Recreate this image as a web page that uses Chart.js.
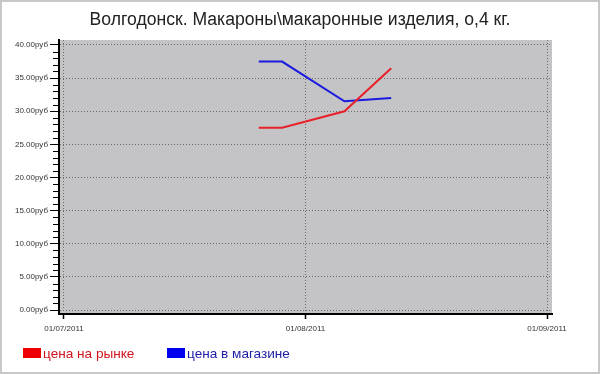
<!DOCTYPE html>
<html>
<head>
<meta charset="utf-8">
<script src="https://cdn.jsdelivr.net/npm/chart.js@4/dist/chart.umd.min.js"></script>
<style>
html,body{margin:0;padding:0;background:#fff;}
#wrap{position:relative;width:600px;height:374px;overflow:hidden;}
#c{position:absolute;left:0;top:0;}
#title{position:absolute;left:0;top:9px;width:600px;text-align:center;font:17.6px "Liberation Sans",Arial,sans-serif;color:#222;white-space:nowrap;}
.leg{position:absolute;top:346px;height:16px;font:13.6px "Liberation Sans",Arial,sans-serif;line-height:16px;white-space:nowrap;}
.leg i{position:absolute;left:0;top:2px;width:18px;height:10px;}
.leg span{position:absolute;left:20px;top:0;}
</style>
</head>
<body>
<div id="wrap">
<canvas id="c" width="600" height="374"></canvas>
<div id="title">Волгодонск. Макароны\макаронные изделия, о,4 кг.</div>
<div class="leg" id="leg0" style="left:23px;"><i></i><span></span></div>
<div class="leg" id="leg1" style="left:167px;"><i></i><span></span></div>
</div>
<script>
// ---- data ----
const dates = ["2011-07-26", "2011-07-29", "2011-08-06", "2011-08-12"];
const marketPrice = [27.5, 27.5, 30.0, 36.5];
const shopPrice = [37.5, 37.5, 31.5, 32.0];
const seriesNames = ["цена на рынке", "цена в магазине"];
const xTickDates = ["2011-07-01", "2011-08-01", "2011-09-01"];
const xTickLabels = ["01/07/2011", "01/08/2011", "01/09/2011"];
const yTicks = [0, 5, 10, 15, 20, 25, 30, 35, 40];

// ---- helpers ----
const origin = Date.UTC(2011, 6, 1);
const dayOf = s => { const [y, m, d] = s.split("-").map(Number); return (Date.UTC(y, m - 1, d) - origin) / 86400000; };
const xTickDays = xTickDates.map(dayOf);
const colors = ["#e8202a", "#1a1ae0"];
const textColors = ["#d0141e", "#1c1ca8"];

[0, 1].forEach(i => {
  const el = document.getElementById("leg" + i);
  el.querySelector("i").style.background = i ? "#0000ee" : "#ee0000";
  const sp = el.querySelector("span");
  sp.textContent = seriesNames[i];
  sp.style.color = textColors[i];
});

const plotBg = {
  id: "plotBg",
  beforeDraw(chart) {
    const { ctx, chartArea: a } = chart;
    ctx.save();
    ctx.fillStyle = "#c4c3c6";
    ctx.fillRect(a.left, a.top, a.right - a.left, a.bottom - a.top);
    ctx.restore();
  },
  afterDraw(chart) {
    const { ctx, chartArea: a, scales } = chart;
    const y = scales.y;
    ctx.save();
    ctx.strokeStyle = "#000";
    ctx.lineWidth = 1;
    ctx.beginPath();
    for (let v = 1; v < 40; v++) {
      if (v % 5 === 0) continue;
      const py = Math.round(y.getPixelForValue(v)) + 0.5;
      ctx.moveTo(a.left - 6, py);
      ctx.lineTo(a.left, py);
    }
    ctx.stroke();
    ctx.strokeStyle = "#c8c8c8";
    ctx.lineWidth = 2;
    ctx.strokeRect(1, 1, 598, 372);
    ctx.restore();
  }
};

const mk = (vals) => dates.map((d, i) => ({ x: dayOf(d), y: vals[i] }));

new Chart(document.getElementById("c"), {
  type: "line",
  data: {
    datasets: [
      { label: seriesNames[0], data: mk(marketPrice), borderColor: colors[0], backgroundColor: colors[0], borderWidth: 2, pointRadius: 0, tension: 0, fill: false },
      { label: seriesNames[1], data: mk(shopPrice), borderColor: colors[1], backgroundColor: colors[1], borderWidth: 2, pointRadius: 0, tension: 0, fill: false }
    ]
  },
  options: {
    responsive: false,
    animation: false,
    devicePixelRatio: 1,
    layout: { padding: { left: 0, right: 48, top: 40, bottom: 0 } },
    plugins: { legend: { display: false }, title: { display: false }, tooltip: { enabled: false } },
    scales: {
      x: {
        type: "linear",
        min: -0.64,
        max: 62.64,
        afterBuildTicks: s => { s.ticks = xTickDays.map(v => ({ value: v })); },
        afterFit: s => { s.height = 60; },
        ticks: {
          autoSkip: false, maxRotation: 0, padding: 5,
          font: { family: "Liberation Sans", size: 8 }, color: "#333",
          callback: (v) => { const i = xTickDays.indexOf(v); return i >= 0 ? xTickLabels[i] : ""; }
        },
        grid: { color: "#6a6a6a", lineWidth: 1, tickLength: 5, tickColor: "#000", tickWidth: 1.5, tickBorderDash: [] },
        border: { display: true, color: "#000", width: 2, dash: [1, 2] }
      },
      y: {
        min: -0.6,
        max: 40.75,
        afterBuildTicks: s => { s.ticks = yTicks.map(v => ({ value: v })); },
        afterFit: s => { s.width = 59; },
        ticks: {
          autoSkip: false, padding: 2,
          font: { family: "Liberation Sans", size: 8 }, color: "#333",
          callback: v => Number(v).toFixed(2) + "руб"
        },
        grid: { color: "#6a6a6a", lineWidth: 1, tickLength: 9, tickColor: "#000", tickWidth: 1, tickBorderDash: [] },
        border: { display: true, color: "#000", width: 2, dash: [1, 2] }
      }
    }
  },
  plugins: [plotBg]
});
</script>
</body>
</html>
